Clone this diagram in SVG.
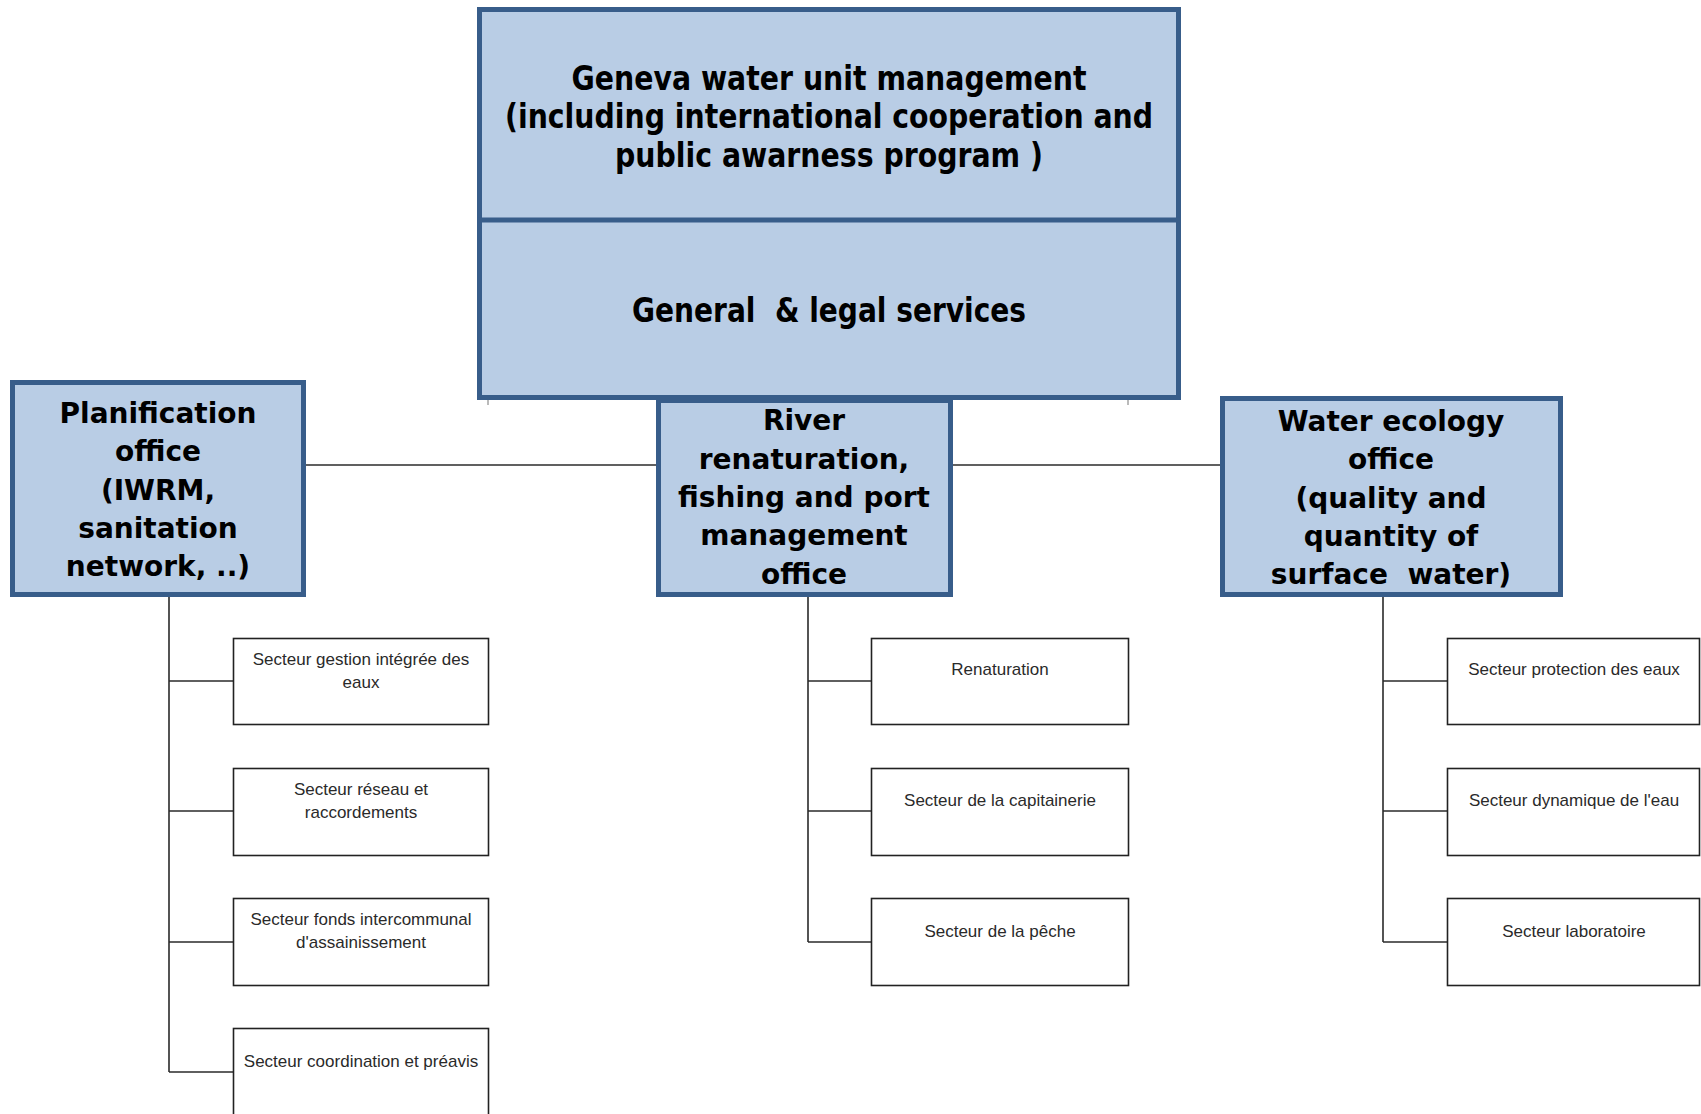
<svg xmlns="http://www.w3.org/2000/svg" width="1701" height="1114" viewBox="0 0 1701 1114">
<style>
.main{fill:#b9cde5;stroke:#385d8a;stroke-width:5}
.sub{fill:#ffffff;stroke:#222222;stroke-width:1.6}
.ttl{font-family:"DejaVu Sans","Verdana",sans-serif;font-weight:bold;font-size:33px;font-stretch:condensed;fill:#000;text-anchor:middle}
.off{font-family:"DejaVu Sans","Verdana",sans-serif;font-weight:bold;font-size:28px;fill:#000;text-anchor:middle}
.st{font-family:"Liberation Sans","Arial",sans-serif;font-size:17px;fill:#2a2a2a;text-anchor:middle}
.cn{stroke:#2b2b2b;stroke-width:1.6;fill:none}
</style>
<rect width="1701" height="1114" fill="#ffffff"/>
<g id="connectors">
<line class="cn" x1="306" y1="465" x2="656" y2="465"/>
<line class="cn" x1="953" y1="465" x2="1220" y2="465"/>
<path class="cn" d="M169,597 V1072 M169,681 H233 M169,811 H233 M169,942 H233 M169,1072 H233"/>
<path class="cn" d="M808,597 V942 M808,681 H871 M808,811 H871 M808,942 H871"/>
<path class="cn" d="M1383,597 V942 M1383,681 H1447 M1383,811 H1447 M1383,942 H1447"/>
<path stroke="#777" stroke-width="1" d="M488,400 V405 M1128,400 V405"/>
</g>
<g id="river">
<rect class="main" x="658.5" y="400.5" width="292" height="194"/>
<text class="off" x="804" y="430">River</text>
<text class="off" x="804" y="469">renaturation,</text>
<text class="off" x="804" y="507">fishing and port</text>
<text class="off" x="804" y="545">management</text>
<text class="off" x="804" y="584">office</text>
</g>
<g id="top">
<rect class="main" x="479.5" y="9.5" width="699" height="388"/>
<line x1="477" y1="220" x2="1181" y2="220" stroke="#385d8a" stroke-width="5"/>
<text class="ttl" x="829" y="90" textLength="515" lengthAdjust="spacingAndGlyphs">Geneva water unit management</text>
<text class="ttl" x="829" y="128" textLength="648" lengthAdjust="spacingAndGlyphs">(including international cooperation and</text>
<text class="ttl" x="829" y="167" textLength="428" lengthAdjust="spacingAndGlyphs">public awarness program )</text>
<text class="ttl" x="829" y="322" textLength="394" lengthAdjust="spacingAndGlyphs" xml:space="preserve">General  &amp; legal services</text>
</g>
<g id="planification">
<rect class="main" x="12.5" y="382.5" width="291" height="212"/>
<text class="off" x="158" y="423">Planification</text>
<text class="off" x="158" y="461">office</text>
<text class="off" x="158" y="500">(IWRM,</text>
<text class="off" x="158" y="538">sanitation</text>
<text class="off" x="158" y="576">network, ..)</text>
</g>
<g id="ecology">
<rect class="main" x="1222.5" y="398.5" width="338" height="196"/>
<text class="off" x="1391" y="431">Water ecology</text>
<text class="off" x="1391" y="469">office</text>
<text class="off" x="1391" y="508">(quality and</text>
<text class="off" x="1391" y="546">quantity of</text>
<text class="off" x="1391" y="584" xml:space="preserve">surface  water)</text>
</g>
<g id="s-gestion">
<rect class="sub" x="233.5" y="638.5" width="255" height="86"/>
<text class="st" x="361" y="665">Secteur gestion intégrée des</text>
<text class="st" x="361" y="688">eaux</text>
</g>
<g id="s-reseau">
<rect class="sub" x="233.5" y="768.5" width="255" height="87"/>
<text class="st" x="361" y="795">Secteur réseau et</text>
<text class="st" x="361" y="818">raccordements</text>
</g>
<g id="s-fonds">
<rect class="sub" x="233.5" y="898.5" width="255" height="87"/>
<text class="st" x="361" y="925">Secteur fonds intercommunal</text>
<text class="st" x="361" y="948">d'assainissement</text>
</g>
<g id="s-coord">
<rect class="sub" x="233.5" y="1028.5" width="255" height="100"/>
<text class="st" x="361" y="1067">Secteur coordination et préavis</text>
</g>
<g id="s-renat">
<rect class="sub" x="871.5" y="638.5" width="257" height="86"/>
<text class="st" x="1000" y="675">Renaturation</text>
</g>
<g id="s-capit">
<rect class="sub" x="871.5" y="768.5" width="257" height="87"/>
<text class="st" x="1000" y="806">Secteur de la capitainerie</text>
</g>
<g id="s-peche">
<rect class="sub" x="871.5" y="898.5" width="257" height="87"/>
<text class="st" x="1000" y="937">Secteur de la pêche</text>
</g>
<g id="s-protect">
<rect class="sub" x="1447.5" y="638.5" width="252" height="86"/>
<text class="st" x="1574" y="675">Secteur protection des eaux</text>
</g>
<g id="s-dyn">
<rect class="sub" x="1447.5" y="768.5" width="252" height="87"/>
<text class="st" x="1574" y="806">Secteur dynamique de l'eau</text>
</g>
<g id="s-labo">
<rect class="sub" x="1447.5" y="898.5" width="252" height="87"/>
<text class="st" x="1574" y="937">Secteur laboratoire</text>
</g>
</svg>
